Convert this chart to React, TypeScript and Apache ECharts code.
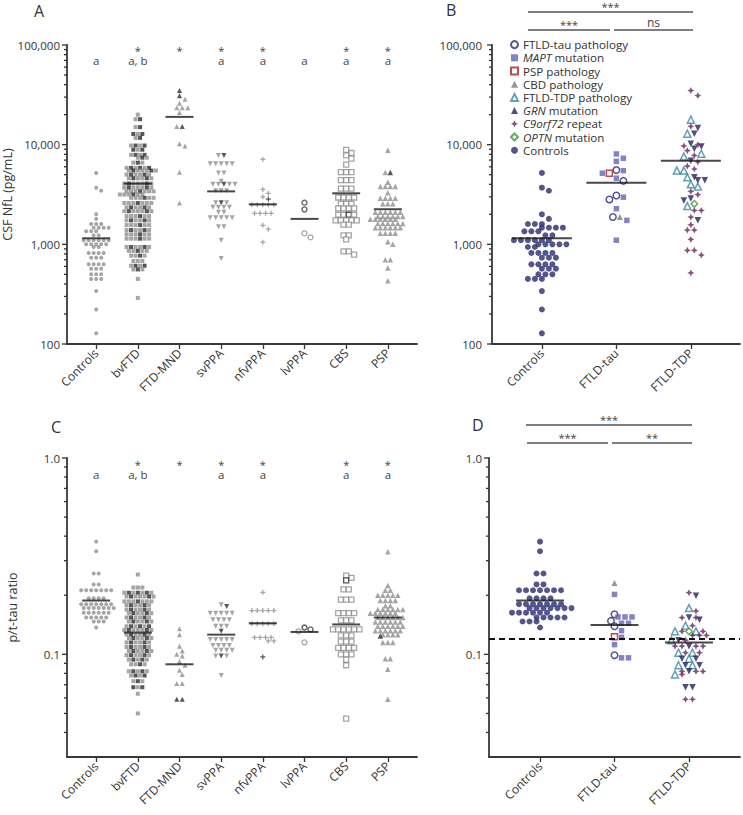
import React, { useEffect, useRef } from 'react';
import * as echarts from 'echarts';

// ---------- categories ----------
const catsAC = ['Controls', 'bvFTD', 'FTD-MND', 'svPPA', 'nfvPPA', 'lvPPA', 'CBS', 'PSP'];
const catsBD = ['Controls', 'FTLD-tau', 'FTLD-TDP'];

// ---------- NfL (pg/mL) ----------
const ctrlNfL = [5200, 3700, 3450, 2000, 1800, 1600, 1600, 1600, 1470, 1470, 1470, 1470, 1350, 1350, 1350, 1230, 1230, 1100, 1100, 1100, 1100, 1100, 1100, 1000, 1000, 1000, 1000, 1000, 940, 940, 820, 820, 820, 820, 735, 735, 735, 630, 630, 630, 630, 570, 570, 570, 500, 500, 500, 450, 450, 450, 340, 222, 128];
const bvftdNfLLight = [20000, 18000, 15000, 12800, 11700, 9800, 9800, 8900, 7900, 7900, 7400, 7400, 6600, 6600, 5850, 5850, 5850, 5500, 5500, 5500, 5500, 5500, 5000, 5000, 5000, 5000, 4600, 4600, 4600, 4600, 4070, 4070, 4070, 4070, 4070, 3700, 3700, 3700, 3700, 3700, 3400, 3400, 3400, 3400, 3400, 3400, 3160, 3160, 3160, 3160, 3160, 2930, 2930, 2930, 2930, 2930, 2600, 2600, 2600, 2600, 2600, 2600, 2350, 2350, 2350, 2350, 2150, 2150, 2150, 2150, 2150, 1920, 1920, 1920, 1920, 1920, 1740, 1740, 1740, 1740, 1560, 1560, 1560, 1560, 1560, 1390, 1390, 1390, 1390, 1260, 1260, 1260, 1260, 1260, 1140, 1140, 1140, 1140, 1140, 940, 940, 940, 940, 860, 860, 860, 860, 770, 770, 770, 680, 680, 680, 610, 610, 560, 560, 450, 290];
const bvftdNfLDark = [18000, 15000, 12800, 12800, 11700, 9800, 9800, 8900, 8900, 7900, 7900, 7400, 6600, 5850, 5850, 5850, 5500, 5500, 5000, 5000, 4600, 4600, 4070, 4070, 3700, 3700, 3400, 3160, 2930, 2600, 2350, 2350, 2150, 2150, 1920, 1740, 1740, 1560, 1390, 1390, 1260, 1140, 940, 940, 860, 770, 610, 610, 560];
const ftdmndNfLLight = [28500, 26000, 23500, 23500, 23500, 21000, 15200, 10200, 9700, 5300, 2600];
const ftdmndNfLDark = [34900, 31000, 15200];
const svppaNfLLight = [7800, 6450, 6450, 6450, 6450, 6450, 5200, 5200, 4300, 4000, 4000, 4000, 4000, 3450, 3450, 3450, 2620, 2620, 2360, 2360, 2360, 2360, 2100, 2100, 1850, 1850, 1850, 1850, 1850, 1500, 1500, 1100, 720];
const svppaNfLDark = [7800, 4000, 2620];
const nfvppaNfLLight = [7100, 3550, 3250, 3000, 2500, 2500, 2500, 2500, 2500, 2050, 2050, 2050, 2050, 1550, 1420, 1050];
const nfvppaNfLDark = [2850];
const lvppaNfLLight = [1290, 1175];
const lvppaNfLDark = [2620, 2240];
const cbsNfLLight = [8850, 8250, 7800, 7250, 6300, 5300, 5300, 5300, 4400, 4400, 4400, 3630, 3630, 3630, 2950, 2950, 2950, 2950, 2550, 2550, 2550, 2300, 2300, 2300, 2300, 1980, 1980, 1980, 1740, 1740, 1740, 1740, 1740, 1580, 1580, 1230, 1230, 1120, 850, 850, 790];
const cbsNfLDark = [1980];
const pspNfLLight = [8770, 5250, 4200, 3800, 3800, 3800, 3800, 3300, 2900, 2900, 2900, 2900, 2550, 2550, 2550, 2100, 2100, 2100, 2100, 2100, 2100, 1900, 1900, 1900, 1900, 1900, 1900, 1780, 1780, 1780, 1780, 1780, 1780, 1620, 1620, 1620, 1620, 1620, 1620, 1470, 1470, 1470, 1470, 1470, 1470, 1290, 1290, 1290, 1290, 1060, 1000, 700, 700, 580, 430];
const pspNfLDark = [5250];
const meansNfLA = [1150, 4070, 19000, 3400, 2520, 1800, 3250, 2250];

// panel B subgroups (NfL)
const tauPathNfL = [5560, 4330, 3090, 2820, 1880];
const maptNfL = [8070, 7300, 6800, 5480, 5170, 4610, 2970, 2280, 1740, 1100];
const pspPathNfL = [5170];
const cbdPathNfL = [1880];
const tdpPathNfL = [17800, 12900, 8100, 7600, 5500, 5500, 4700, 4000, 3800, 2420];
const grnNfL = [14700, 12900, 10200, 9600, 9100, 6900, 4700, 4400, 4400, 2880, 2750, 1740];
const c9NfL = [34900, 31100, 15300, 10000, 9700, 8700, 7800, 6700, 6100, 5700, 3400, 3160, 2190, 2190, 1880, 1570, 1390, 1390, 1120, 870, 870, 780, 516];
const optnNfL = [2550];
const meansNfLB = [1150, 4150, 6900];

// ---------- p/t-tau ratio ----------
const ctrlPT = [0.375, 0.335, 0.258, 0.258, 0.227, 0.227, 0.212, 0.212, 0.212, 0.212, 0.212, 0.212, 0.212, 0.193, 0.193, 0.193, 0.193, 0.18, 0.18, 0.18, 0.18, 0.18, 0.18, 0.18, 0.172, 0.172, 0.172, 0.172, 0.172, 0.172, 0.172, 0.163, 0.163, 0.163, 0.163, 0.163, 0.163, 0.154, 0.154, 0.154, 0.154, 0.154, 0.147, 0.147, 0.147, 0.137];
const bvftdPTLight = [0.255, 0.219, 0.219, 0.219, 0.206, 0.206, 0.206, 0.206, 0.197, 0.197, 0.197, 0.197, 0.197, 0.186, 0.186, 0.186, 0.186, 0.186, 0.186, 0.178, 0.178, 0.178, 0.178, 0.169, 0.169, 0.169, 0.169, 0.162, 0.162, 0.162, 0.162, 0.154, 0.154, 0.154, 0.154, 0.147, 0.147, 0.147, 0.147, 0.139, 0.139, 0.139, 0.133, 0.133, 0.133, 0.133, 0.133, 0.126, 0.126, 0.126, 0.126, 0.121, 0.121, 0.121, 0.121, 0.115, 0.115, 0.115, 0.115, 0.109, 0.109, 0.109, 0.109, 0.104, 0.104, 0.104, 0.104, 0.099, 0.099, 0.099, 0.099, 0.094, 0.094, 0.094, 0.089, 0.089, 0.089, 0.082, 0.082, 0.082, 0.078, 0.078, 0.073, 0.073, 0.068, 0.063, 0.05];
const bvftdPTDark = [0.206, 0.206, 0.206, 0.197, 0.197, 0.186, 0.178, 0.178, 0.169, 0.169, 0.162, 0.162, 0.154, 0.154, 0.147, 0.147, 0.139, 0.139, 0.139, 0.133, 0.133, 0.126, 0.126, 0.121, 0.121, 0.115, 0.115, 0.109, 0.109, 0.104, 0.104, 0.099, 0.099, 0.094, 0.094, 0.089, 0.082, 0.082, 0.078, 0.078, 0.073, 0.068, 0.068];
const ftdmndPTLight = [0.135, 0.126, 0.11, 0.104, 0.1, 0.098, 0.092, 0.088, 0.083, 0.079, 0.071, 0.071];
const ftdmndPTDark = [0.059, 0.059];
const svppaPTLight = [0.179, 0.162, 0.162, 0.162, 0.162, 0.162, 0.15, 0.15, 0.15, 0.15, 0.139, 0.139, 0.139, 0.119, 0.119, 0.119, 0.119, 0.119, 0.111, 0.111, 0.111, 0.111, 0.105, 0.105, 0.105, 0.105, 0.098, 0.098, 0.078];
const svppaPTDark = [0.175, 0.131, 0.098];
const nfvppaPTLight = [0.207, 0.167, 0.167, 0.167, 0.167, 0.167, 0.143, 0.143, 0.143, 0.143, 0.143, 0.122, 0.122, 0.122, 0.122, 0.117, 0.117];
const nfvppaPTDark = [0.097];
const lvppaPTLight = [0.131, 0.115];
const lvppaPTDark = [0.137, 0.134];
const cbsPTLight = [0.252, 0.245, 0.214, 0.214, 0.19, 0.19, 0.19, 0.162, 0.162, 0.162, 0.162, 0.149, 0.149, 0.149, 0.134, 0.134, 0.134, 0.134, 0.134, 0.134, 0.125, 0.125, 0.125, 0.116, 0.116, 0.116, 0.108, 0.108, 0.108, 0.108, 0.1, 0.1, 0.1, 0.094, 0.088, 0.047];
const cbsPTDark = [0.238];
const pspPTLight = [0.333, 0.224, 0.212, 0.212, 0.2, 0.2, 0.2, 0.2, 0.2, 0.188, 0.188, 0.188, 0.188, 0.177, 0.177, 0.169, 0.169, 0.169, 0.169, 0.169, 0.169, 0.162, 0.162, 0.162, 0.162, 0.162, 0.162, 0.154, 0.154, 0.154, 0.154, 0.154, 0.154, 0.146, 0.146, 0.146, 0.146, 0.146, 0.146, 0.139, 0.139, 0.139, 0.139, 0.139, 0.139, 0.132, 0.132, 0.132, 0.132, 0.132, 0.132, 0.126, 0.126, 0.126, 0.126, 0.115, 0.115, 0.115, 0.095, 0.095, 0.084, 0.059];
const pspPTDark = [0.124];
const meansPTC = [0.188, 0.129, 0.089, 0.126, 0.144, 0.13, 0.142, 0.154];

// panel D subgroups (p/t-tau)
const tauPathPT = [0.16, 0.148, 0.139, 0.099];
const maptPT = [0.202, 0.155, 0.155, 0.155, 0.144, 0.144, 0.132, 0.122, 0.112, 0.096, 0.096];
const pspPathPT = [0.123];
const cbdPathPT = [0.231];
const tdpPathPT = [0.172, 0.14, 0.131, 0.131, 0.118, 0.102, 0.102, 0.095, 0.088, 0.088, 0.079];
const grnPT = [0.199, 0.154, 0.15, 0.118, 0.11, 0.095, 0.095, 0.088, 0.088, 0.082, 0.068, 0.068];
const c9PT = [0.206, 0.166, 0.154, 0.154, 0.14, 0.131, 0.131, 0.125, 0.125, 0.125, 0.118, 0.11, 0.11, 0.11, 0.11, 0.102, 0.102, 0.082, 0.082, 0.082, 0.079, 0.059, 0.059];
const optnPT = [0.131];
const meansPTD = [0.188, 0.141, 0.115];
const cutoffPT = [0.12];

// annotations
const starsA = [0, 1, 1, 1, 1, 0, 1, 1];
const lettersA = ['a', 'a, b', '', 'a', 'a', 'a', 'a', 'a'];
const starsC = [0, 1, 1, 1, 1, 0, 1, 1];
const lettersC = ['a', 'a, b', '', 'a', 'a', '', 'a', 'a'];

// tick values
const ticksNfL = [100, 200, 300, 400, 500, 600, 700, 800, 900, 1000, 2000, 3000, 4000, 5000, 6000, 7000, 8000, 9000, 10000, 20000, 30000, 40000, 50000, 60000, 70000, 80000, 90000, 100000];
const ticksPT = [0.04, 0.05, 0.06, 0.07, 0.08, 0.09, 0.1, 0.2, 0.3, 0.4, 0.5, 0.6, 0.7, 0.8, 0.9, 1];

// ---------- styling ----------
const FONT = 'Open Sans';
const GRAY = '#8e8e8e';
const DARK = '#2c2c2c';
const NAVY = '#2b2a72';
const PLUS = 'path://M3,0H5V3H8V5H5V8H3V5H0V3H3Z';
const STAR4 = 'path://M5,0L6.6,3.4L10,5L6.6,6.6L5,10L3.4,6.6L0,5L3.4,3.4Z';

type It = { v: number; tag: string };

function swarm(items: It[], center: number, pxDec: number, pxUnit: number, d: number) {
  const sorted = items.slice().sort((a, b) => b.v - a.v);
  const rows: It[][] = [];
  sorted.forEach((it) => {
    const last = rows[rows.length - 1];
    if (last && Math.abs(last[0].v - it.v) < 1e-9 * it.v) last.push(it);
    else rows.push([it]);
  });
  const placed: number[][] = [];
  const out: { x: number; v: number; tag: string }[] = [];
  rows.forEach((row) => {
    const counts: Record<string, number> = {};
    row.forEach((it) => { counts[it.tag] = (counts[it.tag] || 0) + 1; });
    const seen: Record<string, number> = {};
    const keyed = row.map((it, idx) => {
      const j = (seen[it.tag] = (seen[it.tag] ?? -1) + 1);
      return { it, key: (j + 0.5) / counts[it.tag] + idx * 1e-6 };
    });
    keyed.sort((a, b) => a.key - b.key);
    const k = row.length;
    const py = Math.log10(row[0].v) * pxDec;
    const shifts = [0, d / 2, -d / 2, d, -d, 1.5 * d, -1.5 * d];
    let best = 0;
    let bestScore = Infinity;
    shifts.forEach((s) => {
      let score = Math.abs(s) * 0.001;
      for (let i = 0; i < k; i++) {
        const px = (i - (k - 1) / 2) * d + s;
        placed.forEach((q) => {
          const dist = Math.hypot(px - q[0], py - q[1]);
          if (dist < d * 0.9) score += d * 0.9 - dist;
        });
      }
      if (score < bestScore) { bestScore = score; best = s; }
    });
    keyed.forEach((kk, i) => {
      const px = (i - (k - 1) / 2) * d + best;
      placed.push([px, py]);
      out.push({ x: center + px / pxUnit, v: kk.it.v, tag: kk.it.tag });
    });
  });
  return out;
}

const isDecade = (v: number) => Math.abs(Math.log10(v) - Math.round(Math.log10(v))) < 1e-6;

function tickSeries(xi: number, xMin: number, vals: number[]) {
  return {
    type: 'custom', xAxisIndex: xi, yAxisIndex: xi, clip: false, silent: true, z: 5,
    data: vals.map((v) => [xMin, v]),
    renderItem: (_p: any, api: any) => {
      const v = api.value(1);
      const pt = api.coord([xMin, v]);
      const len = isDecade(v) ? 5 : 3;
      return { type: 'line', shape: { x1: pt[0] - len, y1: pt[1], x2: pt[0], y2: pt[1] }, style: { stroke: '#333', lineWidth: 1.3 } };
    },
  };
}

function annotSeries(xi: number, stars: number[], letters: string[], yStar: number, yLetter: number) {
  const pts: number[][] = [];
  const texts: string[] = [];
  stars.forEach((s, i) => { if (s) { pts.push([i, yStar]); texts.push('*'); } });
  letters.forEach((l, i) => { if (l) { pts.push([i, yLetter]); texts.push(l); } });
  return {
    type: 'custom', xAxisIndex: xi, yAxisIndex: xi, clip: false, silent: true, z: 6,
    itemStyle: { color: '#444' },
    data: pts,
    renderItem: (p: any, api: any) => {
      const pt = api.coord([api.value(0), api.value(1)]);
      const t = texts[p.dataIndex];
      return {
        type: 'text', x: pt[0], y: pt[1],
        style: { text: t, fill: '#444', fontSize: t === '*' ? 11 : 11.5, lineHeight: 5.5, fontFamily: FONT, align: 'center', verticalAlign: 'middle' },
      };
    },
  };
}

type GroupDef = { light: number[]; dark: number[]; symbol: string; size: number; rotate?: number; open?: boolean; d: number };

function grayPanel(xi: number, groups: GroupDef[], pxDec: number, pxUnit: number) {
  return groups.map((g, ci) => {
    const items: It[] = g.light.map((v) => ({ v, tag: 'L' })).concat(g.dark.map((v) => ({ v, tag: 'D' })));
    const laid = swarm(items, ci, pxDec, pxUnit, g.d);
    return {
      type: 'scatter', xAxisIndex: xi, yAxisIndex: xi, symbol: g.symbol, symbolSize: g.size, symbolRotate: g.rotate || 0, silent: true, z: 3,
      data: laid.map((p) => {
        const c = p.tag === 'D' ? DARK : GRAY;
        return { value: [p.x, p.v], itemStyle: g.open ? { color: '#fff', borderColor: c, borderWidth: 1.3 } : { color: c } };
      }),
    };
  });
}

type SubDef = { name: string; symbol: string; size: number; color: string; open?: boolean; rotate?: number };
const subDefs: SubDef[] = [
  { name: 'FTLD-tau pathology', symbol: 'circle', size: 6.5, color: NAVY, open: true },
  { name: 'MAPT mutation', symbol: 'rect', size: 5.5, color: '#6464b4' },
  { name: 'PSP pathology', symbol: 'rect', size: 6, color: '#a3202a', open: true },
  { name: 'CBD pathology', symbol: 'triangle', size: 6, color: '#7a7a7a' },
  { name: 'FTLD-TDP pathology', symbol: 'triangle', size: 7, color: '#3a8aa6', open: true },
  { name: 'GRN mutation', symbol: 'triangle', size: 6.5, color: '#23225e', rotate: 180 },
  { name: 'C9orf72 repeat', symbol: STAR4, size: 7, color: '#6a2462' },
  { name: 'OPTN mutation', symbol: 'diamond', size: 6.5, color: '#3b963b', open: true },
  { name: 'Controls', symbol: 'circle', size: 6, color: NAVY },
];

function colorPanel(xi: number, cats: Record<string, number[]>[], pxDec: number, pxUnit: number, d: number) {
  const all: { x: number; v: number; tag: string }[] = [];
  cats.forEach((c, ci) => {
    const items: It[] = [];
    Object.keys(c).forEach((tag) => c[tag].forEach((v) => items.push({ v, tag })));
    swarm(items, ci, pxDec, pxUnit, d).forEach((p) => all.push(p));
  });
  return subDefs.map((s) => ({
    type: 'scatter', name: s.name, xAxisIndex: xi, yAxisIndex: xi, symbol: s.symbol, symbolSize: s.size, symbolRotate: s.rotate || 0, silent: true, z: 3,
    itemStyle: s.open ? { color: '#fff', borderColor: s.color, borderWidth: 1.5 } : { color: s.color },
    data: all.filter((p) => p.tag === s.name).map((p) => [p.x, p.v]),
  }));
}

function meanSeries(xi: number, means: number[], w: number, extra?: any) {
  return {
    type: 'scatter', xAxisIndex: xi, yAxisIndex: xi, symbol: 'rect', symbolSize: [w, 2], silent: true, z: 4,
    itemStyle: { color: '#1a1a1a' },
    data: means.map((m, i) => [i, m]),
    ...(extra || {}),
  };
}

export default function App() {
  const ref = useRef<HTMLDivElement>(null);
  useEffect(() => {
    document.body.style.margin = '0';
    const chart = echarts.init(ref.current!, null, { renderer: 'svg' });

    const pxDecA = 299 / 3;
    const pxDecC = 299 / (0 - Math.log10(0.03));
    const unitAC = 350 / 8.4;
    const unitB = 248 / 3.33;
    const unitD = 251 / 3.37;

    const groupsA: GroupDef[] = [
      { light: ctrlNfL, dark: [], symbol: 'circle', size: 4, d: 5 },
      { light: bvftdNfLLight, dark: bvftdNfLDark, symbol: 'rect', size: 4, d: 4.5 },
      { light: ftdmndNfLLight, dark: ftdmndNfLDark, symbol: 'triangle', size: 5, d: 5.5 },
      { light: svppaNfLLight, dark: svppaNfLDark, symbol: 'triangle', size: 5, rotate: 180, d: 5.5 },
      { light: nfvppaNfLLight, dark: nfvppaNfLDark, symbol: PLUS, size: 5, d: 5.5 },
      { light: lvppaNfLLight, dark: lvppaNfLDark, symbol: 'circle', size: 5, open: true, d: 6 },
      { light: cbsNfLLight, dark: cbsNfLDark, symbol: 'rect', size: 5, open: true, d: 5.3 },
      { light: pspNfLLight, dark: pspNfLDark, symbol: 'triangle', size: 5.5, d: 5 },
    ];
    const groupsC: GroupDef[] = [
      { light: ctrlPT, dark: [], symbol: 'circle', size: 4, d: 5 },
      { light: bvftdPTLight, dark: bvftdPTDark, symbol: 'rect', size: 4, d: 4.5 },
      { light: ftdmndPTLight, dark: ftdmndPTDark, symbol: 'triangle', size: 5, d: 5.5 },
      { light: svppaPTLight, dark: svppaPTDark, symbol: 'triangle', size: 5, rotate: 180, d: 5.5 },
      { light: nfvppaPTLight, dark: nfvppaPTDark, symbol: PLUS, size: 5, d: 5.5 },
      { light: lvppaPTLight, dark: lvppaPTDark, symbol: 'circle', size: 5, open: true, d: 6 },
      { light: cbsPTLight, dark: cbsPTDark, symbol: 'rect', size: 5, open: true, d: 5.3 },
      { light: pspPTLight, dark: pspPTDark, symbol: 'triangle', size: 5.5, d: 5 },
    ];

    const catsB = [
      { Controls: ctrlNfL },
      { 'FTLD-tau pathology': tauPathNfL, 'MAPT mutation': maptNfL, 'PSP pathology': pspPathNfL, 'CBD pathology': cbdPathNfL },
      { 'FTLD-TDP pathology': tdpPathNfL, 'GRN mutation': grnNfL, 'C9orf72 repeat': c9NfL, 'OPTN mutation': optnNfL },
    ];
    const catsD = [
      { Controls: ctrlPT },
      { 'FTLD-tau pathology': tauPathPT, 'MAPT mutation': maptPT, 'PSP pathology': pspPathPT, 'CBD pathology': cbdPathPT },
      { 'FTLD-TDP pathology': tdpPathPT, 'GRN mutation': grnPT, 'C9orf72 repeat': c9PT, 'OPTN mutation': optnPT },
    ];

    const axisLineStyle = { color: '#383838', width: 1.8 };
    const xAxis = (gi: number, min: number, max: number, cats: string[]) => ({
      type: 'value', gridIndex: gi, min, max, splitLine: { show: false },
      axisLine: { show: true, onZero: false, lineStyle: axisLineStyle },
      axisTick: { show: true, length: 5, customValues: cats.map((_, i) => i), lineStyle: { color: '#333', width: 1.3 } },
      axisLabel: { customValues: cats.map((_, i) => i), rotate: 45, fontSize: 12, color: '#333', fontFamily: FONT, margin: 7, formatter: (v: number) => cats[Math.round(v)] ?? '' },
    });
    const yAxis = (gi: number, min: number, max: number, name: string, fmt: (v: number) => string, margin: number) => ({
      type: 'log', logBase: 10, gridIndex: gi, min, max, splitLine: { show: false },
      axisLine: { show: true, onZero: false, lineStyle: axisLineStyle },
      axisTick: { show: false }, minorTick: { show: false },
      axisLabel: { fontSize: 11.5, color: '#333', fontFamily: FONT, margin, formatter: (v: number) => (isDecade(v) ? fmt(v) : '') },
      name, nameLocation: 'middle', nameGap: 48, nameRotate: 90,
      nameTextStyle: { fontSize: 12.5, color: '#333', fontFamily: FONT },
    });
    const fmtNfL = (v: number) => Math.round(v).toLocaleString('en-US');
    const fmtPT = (v: number) => (v >= 0.99 ? '1.0' : v.toFixed(1));

    const italicMap: Record<string, string> = {
      'MAPT mutation': '{i|MAPT} mutation',
      'GRN mutation': '{i|GRN} mutation',
      'C9orf72 repeat': '{i|C9orf72} repeat',
      'OPTN mutation': '{i|OPTN} mutation',
    };

    const sig = (x1: number, x2: number, y: number, label: string, ty: number) => [
      { type: 'line', shape: { x1, y1: y, x2, y2: y }, style: { stroke: '#555', lineWidth: 1.5 } },
      { type: 'text', x: (x1 + x2) / 2, y: ty, style: { text: label, fill: '#444', fontSize: label === 'ns' ? 12 : 11, lineHeight: 8, fontFamily: FONT, align: 'center', verticalAlign: 'middle' } },
    ];
    const letter = (t: string, x: number, y: number) => ({
      type: 'text', x, y, style: { text: t, fontSize: 16, lineHeight: 16, fill: '#333', fontFamily: FONT, align: 'left', verticalAlign: 'middle' },
    });

    const option: any = {
      animation: false,
      textStyle: { fontFamily: FONT },
      grid: [
        { left: 67, top: 45, width: 350, height: 299, outerBoundsMode: 'none' },
        { left: 492, top: 45, width: 248, height: 299, outerBoundsMode: 'none' },
        { left: 67, top: 458, width: 350, height: 299, outerBoundsMode: 'none' },
        { left: 489, top: 458, width: 251, height: 299, outerBoundsMode: 'none' },
      ],
      xAxis: [
        xAxis(0, -0.7, 7.7, catsAC),
        xAxis(1, -0.67, 2.66, catsBD),
        xAxis(2, -0.7, 7.7, catsAC),
        xAxis(3, -0.685, 2.685, catsBD),
      ],
      yAxis: [
        yAxis(0, 100, 100000, 'CSF NfL (pg/mL)', fmtNfL, 7),
        yAxis(1, 100, 100000, '', fmtNfL, 10),
        yAxis(2, 0.03, 1, 'p/t-tau ratio', fmtPT, 7),
        yAxis(3, 0.03, 1, '', fmtPT, 7),
      ],
      legend: {
        left: 505, top: 33, orient: 'vertical', itemGap: 0, itemWidth: 7, itemHeight: 7, selectedMode: false,
        data: subDefs.map((s) => s.name),
        formatter: (n: string) => italicMap[n] || n,
        textStyle: {
          fontSize: 11.6, color: '#333', fontFamily: FONT, lineHeight: 13.2,
          rich: { i: { fontStyle: 'italic', fontSize: 11.6, color: '#333', fontFamily: FONT, lineHeight: 13.2 } },
        },
      },
      graphic: [
        letter('A', 34, 11),
        letter('B', 446, 10),
        letter('C', 51, 427),
        letter('D', 472, 425),
        ...sig(528, 693, 12, '***', 6),
        ...sig(528, 610, 30, '***', 24),
        ...sig(614, 693, 30, 'ns', 22),
        ...sig(526, 692, 425, '***', 419),
        ...sig(527, 608, 443, '***', 437),
        ...sig(612, 692, 443, '**', 437),
      ],
      series: [
        tickSeries(0, -0.7, ticksNfL),
        tickSeries(1, -0.67, ticksNfL),
        tickSeries(2, -0.7, ticksPT),
        tickSeries(3, -0.685, ticksPT),
        ...grayPanel(0, groupsA, pxDecA, unitAC),
        ...grayPanel(2, groupsC, pxDecC, unitAC),
        ...colorPanel(1, catsB as any, pxDecA, unitB, 7),
        ...colorPanel(3, catsD as any, pxDecC, unitD, 7),
        meanSeries(0, meansNfLA, 28),
        meanSeries(2, meansPTC, 28),
        meanSeries(1, meansNfLB, 60),
        meanSeries(3, meansPTD, 48, {
          markLine: {
            silent: true, symbol: ['none', 'none'], label: { show: false },
            lineStyle: { type: [6, 4], color: '#111', width: 1.8 },
            data: cutoffPT.map((c) => ({ yAxis: c })),
          },
        }),
        annotSeries(0, starsA, lettersA, 88000, 70500),
        annotSeries(2, starsC, lettersC, 0.932, 0.828),
      ],
    };
    chart.setOption(option);
    return () => chart.dispose();
  }, []);
  return <div ref={ref} style={{ width: 743, height: 815 }} />;
}
